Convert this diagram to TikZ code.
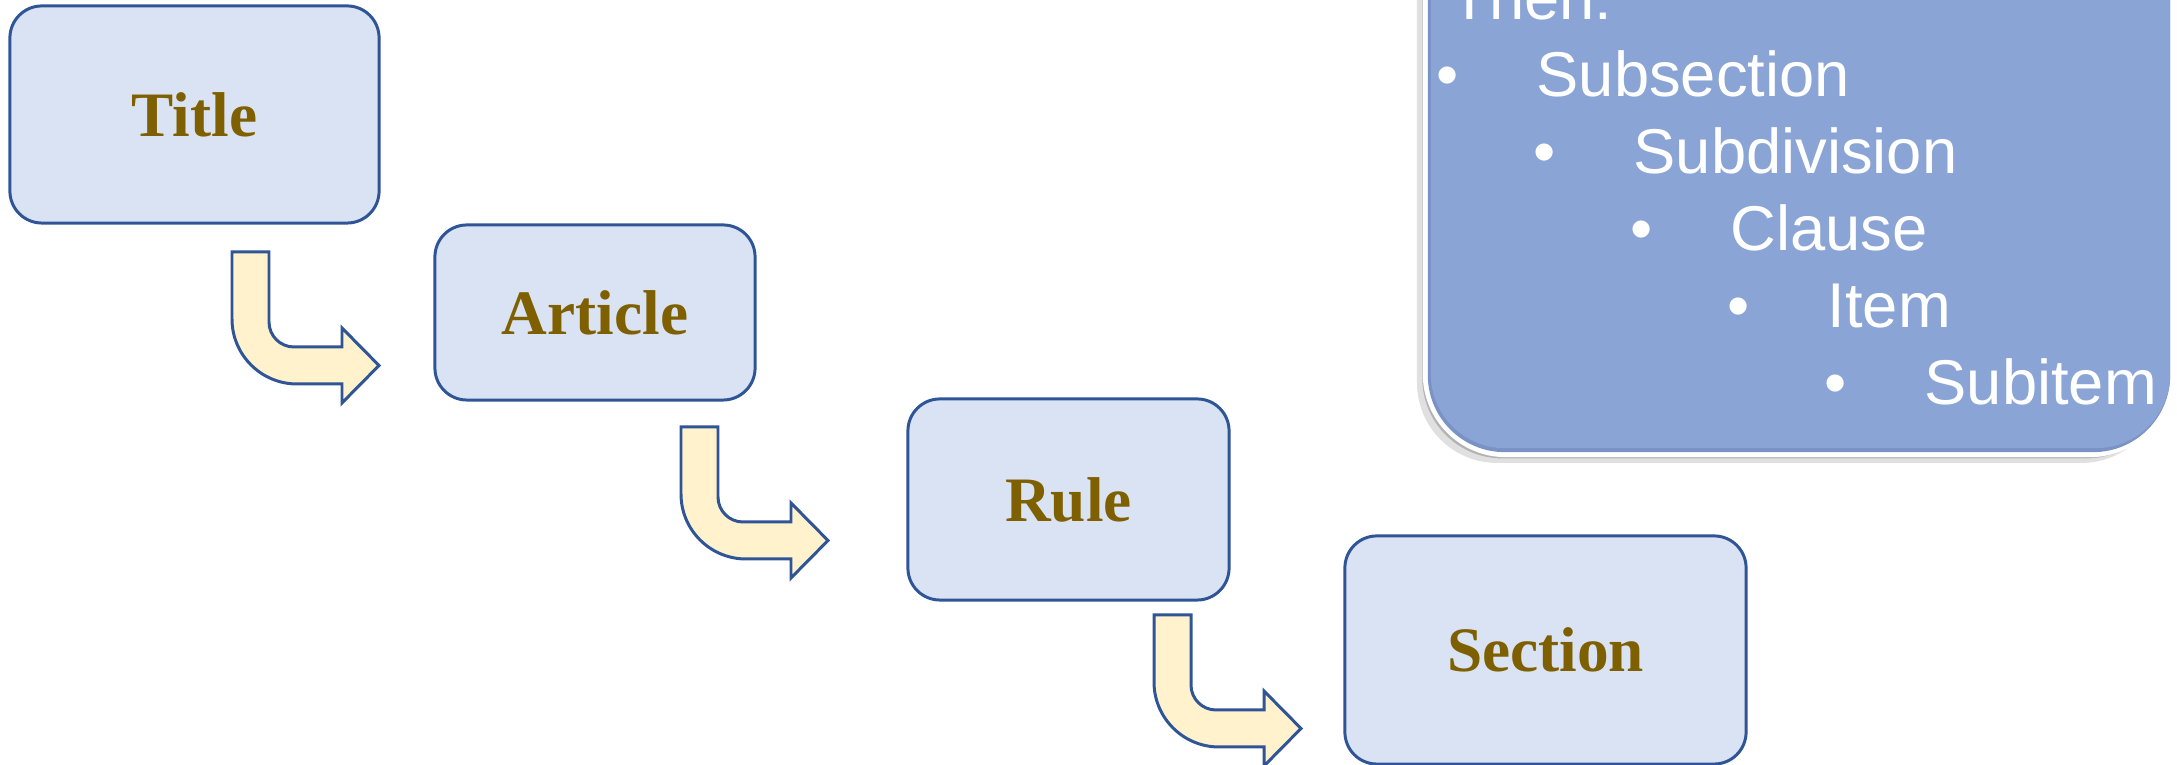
\documentclass[tikz,border=0pt]{standalone}
\usepackage{fontspec}
\setmainfont{Liberation Serif}
\newfontfamily\arialfont{Liberation Sans}
\usetikzlibrary{calc, shadows}

\definecolor{boxfill}{HTML}{DAE3F3}
\definecolor{boxline}{HTML}{2F5597}
\definecolor{labelbrown}{HTML}{7F6000}
\definecolor{arrowfill}{HTML}{FFF2CC}
\definecolor{hierblue}{HTML}{89A4D5}
\definecolor{hiermid}{HTML}{7A92C4}
\definecolor{hierdark}{HTML}{66799F}

\begin{document}
\begin{tikzpicture}[
x=0.01cm, y=-0.01cm,
levelbox/.style={draw=boxline, line width=0.85pt, fill=boxfill, rounded corners=0.32cm, align=center, font=\fontsize{18}{22}\selectfont\bfseries, text=labelbrown},
hierbox/.style={draw=white, line width=1.7pt, fill=hierdark, rounded corners=0.8cm, minimum width=7.44cm, minimum height=5.9cm,
  drop shadow={shadow xshift=-2.5pt, shadow yshift=-2.5pt, opacity=0.12, fill=black},
  drop shadow={shadow xshift=-1pt, shadow yshift=-1.2pt, opacity=0.2, fill=black}},
listtext/.style={font=\arialfont\fontsize{18}{22}\selectfont, text=white, inner sep=0pt, anchor=base west},
dotmark/.style={font=\arialfont\fontsize{18}{22}\selectfont, text=white, inner sep=0pt, anchor=base},
bentarrow/.pic={\draw[draw=boxline, fill=arrowfill, line width=0.85pt, line join=miter]
  (0,0) -- (37,0) -- (37,70) .. controls (37,83.8) and (48.2,95) .. (62,95) -- (110,95) -- (110,76)
  -- (147,113.5) -- (110,151) -- (110,132) -- (65,132) .. controls (29.1,132) and (0,102.9) .. (0,67) -- cycle;}
]
\clip (0,0) rectangle (2177,765);

% the four levels
\node[levelbox, minimum width=3.69cm, minimum height=2.17cm] (title) at (194.5,114.5) {Title};
\node[levelbox, minimum width=3.20cm, minimum height=1.75cm] (article) at (595,312.5) {Article};
\node[levelbox, minimum width=3.21cm, minimum height=2.01cm] (rule) at (1068.5,499.5) {Rule};
\node[levelbox, minimum width=4.01cm, minimum height=2.28cm] (section) at (1545.5,650) {Section};

% bent arrows between levels
\coordinate (bend1) at (232,252);
\coordinate (bend2) at (681,427);
\coordinate (bend3) at (1154,615);
\pic at (bend1) {bentarrow};
\pic at (bend2) {bentarrow};
\pic at (bend3) {bentarrow};

% lower levels
\node[hierbox] (hier) at (1798,159) {};
\fill[hiermid, rounded corners=0.77cm] ($(hier.north west)+(5,0)$) rectangle ($(hier.south east)+(-3,-5)$);
\fill[hierblue, rounded corners=0.74cm] ($(hier.north west)+(8,0)$) rectangle ($(hier.south east)+(-3,-9)$);
\node[listtext] (thenlbl) at (1450,20) {Then:};
\node[dotmark] (subsecdot) at (1448,97) {•};
\node[listtext] (subsec) at (1536,97) {Subsection};
\node[dotmark] (subdivdot) at (1545,174) {•};
\node[listtext] (subdiv) at (1633,174) {Subdivision};
\node[dotmark] (clausedot) at (1642,251) {•};
\node[listtext] (clause) at (1730,251) {Clause};
\node[dotmark] (itemdot) at (1739,328) {•};
\node[listtext] (item) at (1827,328) {Item};
\node[dotmark] (subitemdot) at (1836,405) {•};
\node[listtext] (subitem) at (1924,405) {Subitem};

\end{tikzpicture}
\end{document}
